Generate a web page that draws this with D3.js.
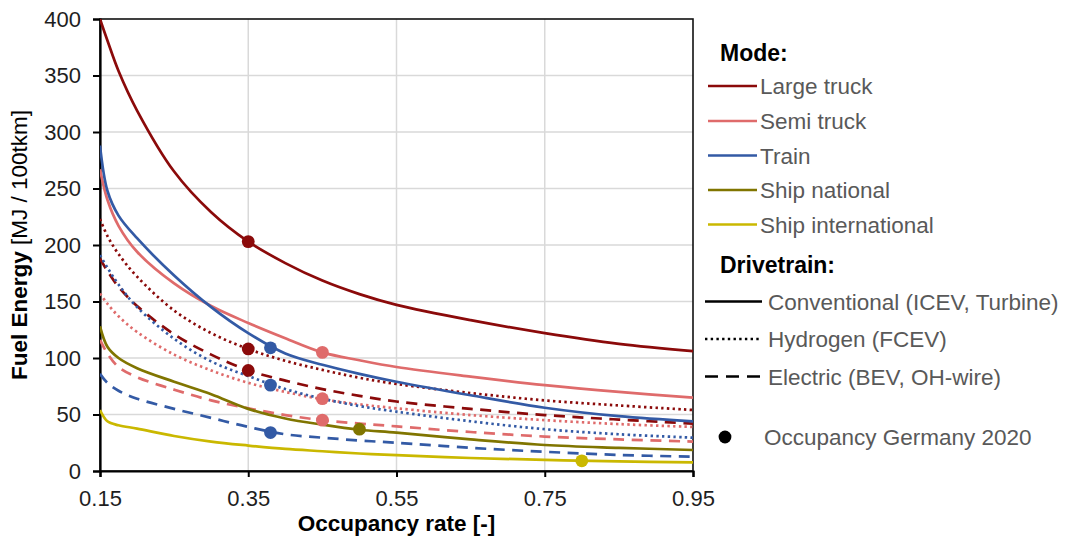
<!DOCTYPE html>
<html>
<head>
<meta charset="utf-8">
<script src="https://cdn.jsdelivr.net/npm/d3@7"></script>
<style>
  html, body { margin: 0; padding: 0; background: #fff; }
  svg { display: block; font-family: "Liberation Sans", Arial, sans-serif; }
</style>
</head>
<body>
<svg id="chart" width="1065" height="540"></svg>
<script>
// Occupancy rate grid shared by all curves
const occupancy = [0.15, 0.16, 0.175, 0.2, 0.25, 0.3, 0.35, 0.4, 0.45, 0.5, 0.55, 0.65, 0.75, 0.85, 0.95];

// Fuel energy [MJ / 100tkm] per mode and drivetrain
const largeTruckICEV = [400, 381, 354, 319, 265, 229, 203, 184, 168.5, 156.5, 147, 133.5, 122, 112.5, 106];
const largeTruckFCEV = [223, 208, 192, 172, 142, 122, 108, 97.5, 89.5, 82.5, 77, 69, 62.5, 58, 54];
const largeTruckBEV  = [188, 177, 163, 146, 121, 103, 89, 80, 72.5, 66.5, 61.5, 55, 49.5, 45.5, 42];
const semiTruckICEV  = [267, 240, 217, 194, 166, 146, 131, 117.5, 105, 98, 92, 83.5, 76, 70, 65];
const semiTruckFCEV  = [157, 148, 137, 123, 103, 89, 78, 70, 63.5, 59, 55.5, 49.5, 45, 41.5, 39];
const semiTruckBEV   = [116, 104, 92, 83, 72, 62.5, 55.5, 49.5, 45, 42, 39.5, 34.5, 30.5, 28, 26];
const trainDiesel    = [288, 248, 226, 206, 173, 145, 122, 104, 94, 86, 79, 67, 56, 48.5, 44];
const trainFCEV      = [191, 180, 165, 145, 117, 97, 84, 72.5, 64, 57.5, 52.5, 44, 37, 32.5, 29.5];
const trainWire      = [86, 78, 71, 64, 55, 47, 39, 32.5, 29.5, 27, 25, 20.5, 17, 14.2, 12.7];
const shipNational   = [128, 110, 100, 91, 79, 68, 55, 46.5, 41, 36.5, 34, 28, 23, 20.5, 18.6];
const shipIntl       = [54, 44, 40.5, 37.5, 31, 26, 22.5, 19.5, 17.5, 15.5, 14, 11.5, 9.8, 8.5, 7.7];

// Occupancy Germany 2020 markers
const modeNames      = ["Large truck", "Semi truck", "Train", "Ship national", "Ship international"];
const modeColors     = ["#8b0a0a", "#df6b6b", "#335aa5", "#807500", "#cab800"];
const occupancy2020  = [0.35, 0.45, 0.38, 0.50, 0.80];
const marker2020ICEV = [203, 105, 109, 37, 9];
const marker2020FCEV = [108, 64, 76, null, null];
const marker2020BEV  = [89, 45, 34, null, null];

// Drivetrain legend
const drivetrainNames = ["Conventional (ICEV, Turbine)", "Hydrogen (FCEV)", "Electric (BEV, OH-wire)"];
const dashPatterns    = [null, "2.4,3.3", "11,7.5"];

const xTicks = [0.15, 0.35, 0.55, 0.75, 0.95];
const yTicks = [0, 50, 100, 150, 200, 250, 300, 350, 400];

const seriesByMode = [
  [largeTruckICEV, largeTruckFCEV, largeTruckBEV],
  [semiTruckICEV, semiTruckFCEV, semiTruckBEV],
  [trainDiesel, trainFCEV, trainWire],
  [shipNational, null, null],
  [shipIntl, null, null]
];
const markersByDrivetrain = [marker2020ICEV, marker2020FCEV, marker2020BEV];

const svg = d3.select("#chart");
const plot = { left: 100, right: 693, top: 19, bottom: 471 };

const x = d3.scaleLinear().domain([0.15, 0.95]).range([plot.left, plot.right]);
const y = d3.scaleLinear().domain([0, 400]).range([plot.bottom, plot.top]);

svg.append("defs").append("clipPath").attr("id", "plotClip")
  .append("rect")
  .attr("x", plot.left).attr("y", plot.top)
  .attr("width", plot.right - plot.left).attr("height", plot.bottom - plot.top);

// Gridlines
const grid = svg.append("g");
grid.selectAll("line.h").data(yTicks.filter(d => d > 0 && d < 400)).join("line")
  .attr("x1", plot.left).attr("x2", plot.right)
  .attr("y1", d => y(d)).attr("y2", d => y(d))
  .attr("stroke", "#d9d9d9").attr("stroke-width", 1.5);
grid.selectAll("line.v").data(xTicks.filter(d => d > 0.15 && d < 0.95)).join("line")
  .attr("y1", plot.top).attr("y2", plot.bottom)
  .attr("x1", d => x(d)).attr("x2", d => x(d))
  .attr("stroke", "#d9d9d9").attr("stroke-width", 1.5);

// Plot frame
svg.append("rect")
  .attr("x", plot.left).attr("y", plot.top)
  .attr("width", plot.right - plot.left).attr("height", plot.bottom - plot.top)
  .attr("fill", "none").attr("stroke", "#111").attr("stroke-width", 1.6);

// Axes
const xAxis = svg.append("g")
  .attr("transform", `translate(0,${plot.bottom})`)
  .call(d3.axisBottom(x).tickValues(xTicks).tickFormat(d3.format(".2f")).tickSize(6).tickPadding(9));
const yAxis = svg.append("g")
  .attr("transform", `translate(${plot.left},0)`)
  .call(d3.axisLeft(y).tickValues(yTicks).tickSize(7).tickPadding(12));
[xAxis, yAxis].forEach(a => {
  a.select(".domain").attr("stroke", "#000").attr("stroke-width", 2.2);
  a.selectAll(".tick line").attr("stroke", "#000").attr("stroke-width", 2);
  a.selectAll(".tick text").attr("fill", "#1e1e1e").attr("font-size", 22)
    .attr("font-family", "'Liberation Sans', Arial, sans-serif");
});
xAxis.selectAll(".tick text").attr("dy", "0.9em");

// Axis titles
svg.append("text")
  .attr("x", (plot.left + plot.right) / 2).attr("y", 531)
  .attr("text-anchor", "middle").attr("font-size", 22.5).attr("font-weight", "bold").attr("fill", "#000")
  .text("Occupancy rate [-]");
const yTitle = svg.append("text")
  .attr("transform", "translate(27,245) rotate(-90)")
  .attr("text-anchor", "middle").attr("font-size", 22.5).attr("fill", "#000");
yTitle.append("tspan").attr("font-weight", "bold").text("Fuel Energy ");
yTitle.append("tspan").text("[MJ / 100tkm]");

// Curves
const line = d3.line()
  .defined(d => d[1] != null)
  .x(d => x(d[0])).y(d => y(d[1]))
  .curve(d3.curveCatmullRom.alpha(0.5));

const curves = svg.append("g").attr("clip-path", "url(#plotClip)");
const drawOrder = [2, 1, 0];
drawOrder.forEach(di => {
  seriesByMode.forEach((modeSeries, mi) => {
    const values = modeSeries[di];
    if (!values) return;
    curves.append("path")
      .datum(occupancy.map((o, i) => [o, values[i]]))
      .attr("d", line)
      .attr("fill", "none")
      .attr("stroke", modeColors[mi])
      .attr("stroke-width", 2.7)
      .attr("stroke-dasharray", dashPatterns[di]);
  });
});

// Occupancy Germany 2020 markers
const markers = svg.append("g");
markersByDrivetrain.forEach(vals => {
  vals.forEach((v, mi) => {
    if (v == null) return;
    markers.append("circle")
      .attr("cx", x(occupancy2020[mi])).attr("cy", y(v)).attr("r", 6.4)
      .attr("fill", modeColors[mi]);
  });
});

// Legend
const legend = svg.append("g");
legend.append("text").attr("x", 720).attr("y", 61)
  .attr("font-size", 23).attr("font-weight", "bold").attr("fill", "#000").text("Mode:");
const modeRowY = [86, 121, 155.5, 190, 224.5];
modeNames.forEach((name, i) => {
  legend.append("line").attr("x1", 708).attr("x2", 757)
    .attr("y1", modeRowY[i]).attr("y2", modeRowY[i])
    .attr("stroke", modeColors[i]).attr("stroke-width", 2.7);
  legend.append("text").attr("x", 760).attr("y", modeRowY[i] + 8)
    .attr("font-size", 22.5).attr("fill", "#595959").text(name);
});

legend.append("text").attr("x", 720).attr("y", 273)
  .attr("font-size", 23).attr("font-weight", "bold").attr("fill", "#000").text("Drivetrain:");
const driveRowY = [301.5, 339, 376.5];
drivetrainNames.forEach((name, i) => {
  legend.append("line").attr("x1", 705).attr("x2", 762)
    .attr("y1", driveRowY[i]).attr("y2", driveRowY[i])
    .attr("stroke", "#000").attr("stroke-width", 2.5)
    .attr("stroke-dasharray", i === 2 ? "13,8" : dashPatterns[i]);
  legend.append("text").attr("x", 768).attr("y", driveRowY[i] + 8)
    .attr("font-size", 22.5).attr("fill", "#595959").text(name);
});
legend.append("circle").attr("cx", 725).attr("cy", 437).attr("r", 6.4).attr("fill", "#000");
legend.append("text").attr("x", 764).attr("y", 445)
  .attr("font-size", 22.5).attr("fill", "#595959").text("Occupancy Germany 2020");
</script>
</body>
</html>
